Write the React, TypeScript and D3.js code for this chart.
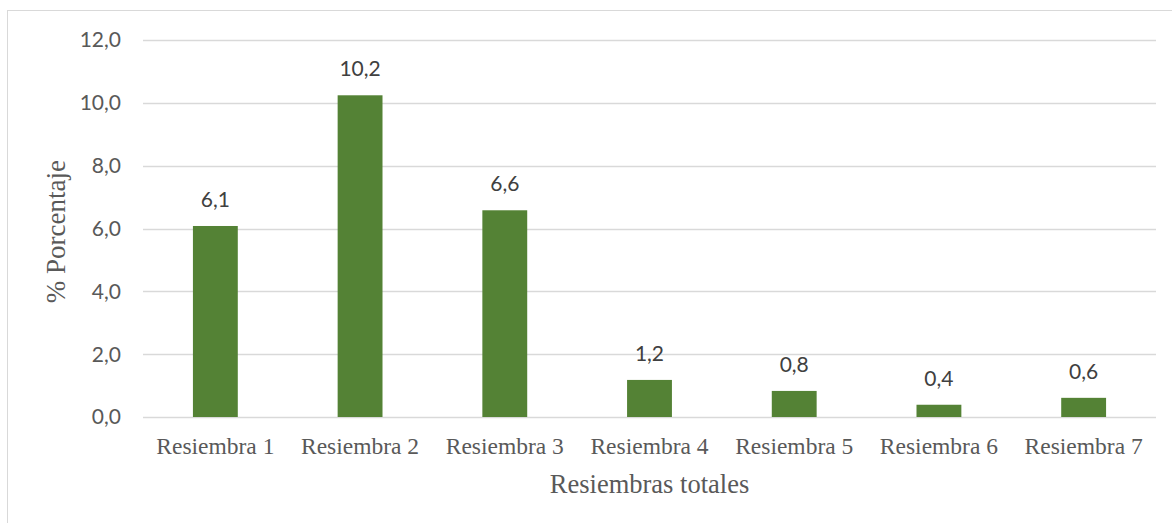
import React from "react";
import * as d3 from "d3";

const categories = ["Resiembra 1", "Resiembra 2", "Resiembra 3", "Resiembra 4", "Resiembra 5", "Resiembra 6", "Resiembra 7"];
const values = [6.08, 10.24, 6.58, 1.18, 0.83, 0.39, 0.61];
const yTicks = [0, 2, 4, 6, 8, 10, 12];
const xTitle = "Resiembras totales";
const yTitle = "% Porcentaje";

const W = 1172;
const H = 523;
const margin = { left: 143, right: 16, top: 40, bottom: 106 };

const fmt = (v: number) => d3.format(".1f")(v).replace(".", ",");

export default function App() {
  const x = d3
    .scaleBand<string>()
    .domain(categories)
    .range([margin.left, W - margin.right])
    .paddingInner(0.69)
    .paddingOuter(0.345);
  const y = d3.scaleLinear().domain([0, 12]).range([H - margin.bottom - 0, margin.top]);
  const plotX0 = margin.left;
  const plotX1 = W - margin.right;
  const sans = "Lato, 'Open Sans', sans-serif";
  const serif = "'Liberation Serif', 'Times New Roman', serif";
  return (
    <svg
      width={W}
      height={H}
      style={{ position: "absolute", left: 0, top: 0, background: "#fff" }}
    >
      <rect x={7.5} y={10.5} width={W + 10} height={H + 10} fill="#fff" stroke="#d9d9d9" strokeWidth={1} />
      {yTicks.map((t) => (
        <g key={t}>
          <line x1={plotX0} x2={plotX1} y1={Math.round(y(t)) + 0.5} y2={Math.round(y(t)) + 0.5} stroke="#d9d9d9" strokeWidth={1.3} />
          <text x={121} y={y(t)} dy="0.35em" textAnchor="end" fontFamily={sans} fontSize={21} fill="#595959">
            {fmt(t)}
          </text>
        </g>
      ))}
      {categories.map((c, i) => (
        <g key={c}>
          <rect x={x(c)} y={y(values[i])} width={x.bandwidth()} height={y(0) - y(values[i])} fill="#548235" />
          <text x={(x(c) as number) + x.bandwidth() / 2} y={y(values[i]) - 19} textAnchor="middle" fontFamily={sans} fontSize={21} fill="#404040">
            {fmt(values[i])}
          </text>
          <text x={(x(c) as number) + x.bandwidth() / 2} y={454} textAnchor="middle" fontFamily={serif} fontSize={23.5} fill="#595959">
            {c}
          </text>
        </g>
      ))}
      <text x={(plotX0 + plotX1) / 2} y={493} textAnchor="middle" fontFamily={serif} fontSize={26.5} fill="#595959">
        {xTitle}
      </text>
      <text transform={`translate(65, ${y(5.9)}) rotate(-90)`} textAnchor="middle" fontFamily={serif} fontSize={27} fill="#595959">
        {yTitle}
      </text>
    </svg>
  );
}
